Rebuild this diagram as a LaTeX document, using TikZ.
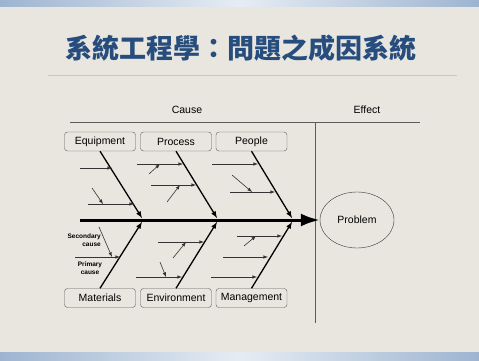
\documentclass[tikz,border=0pt]{standalone}
\usepackage{fontspec}
\setmainfont{Liberation Sans}
\newfontfamily\cjk{Noto Sans CJK TC}
\usepackage{xcolor}
\usetikzlibrary{shapes.geometric,arrows.meta}

\definecolor{paper}{HTML}{E8E6DF}
\definecolor{fan}{HTML}{EDEBE5}
\definecolor{barblue}{HTML}{9DB4D0}
\definecolor{barlight}{HTML}{E6ECF4}
\definecolor{titleblue}{HTML}{264D7E}
\definecolor{ink}{HTML}{333333}

\begin{document}
\begin{tikzpicture}[
    x=1pt, y=-1pt,
    lbl/.style={font=\fontsize{10.5}{12}\selectfont},
    cat/.style={lbl, draw=ink!80, rounded corners=3pt, minimum width=71pt, minimum height=19pt, inner sep=1pt},
    bone/.style={line width=1.3pt, -latex},
    sub/.style={draw=ink, -latex, line width=0.6pt},
    line/.style={draw=ink!80, semithick},
    tiny/.style={inner sep=0pt, font=\bfseries\fontsize{6.5}{8.5}\selectfont}
]

% background
\useasboundingbox (0,0) rectangle (479,361);
\fill[paper] (0,0) rectangle (479,361);
\fill[fan] (240,360) ++(10:60) arc (10:170:60) -- ++(170:180) arc (170:10:240) -- cycle;
\shade[left color=barblue, right color=barblue, middle color=barlight] (0,0) rectangle (479,7);
\shade[left color=barblue, right color=barblue, middle color=barlight] (0,352) rectangle (479,361);

% title
\node[text=titleblue, font=\cjk\bfseries\fontsize{27}{30}\selectfont] (title) at (241,48) {系統工程學：問題之成因系統};
\draw[draw=barblue!70, line width=0.8pt] (48,75) -- (457,75);

% header
\node[lbl] (cause) at (187,110) {Cause};
\node[lbl] (effect) at (367,110) {Effect};
\draw[line] (70,122) -- (420,122);
\draw[line] (315,122) -- (315,323);

% categories
\node[cat] (equip) at (100,141.5) {Equipment};
\node[cat] (process) at (176,141.5) {Process};
\node[cat] (people) at (251.5,141.5) {People};
\node[cat] (materials) at (100,298) {Materials};
\node[cat] (environ) at (176,298) {Environment};
\node[cat] (manage) at (251.5,298) {Management};

\node[lbl, draw=ink, ellipse, minimum width=74pt, minimum height=56pt] (problem) at (357,220) {Problem};

% spine
\coordinate (tail) at (80,220);
\draw[line width=3pt, -{Latex[length=19pt,width=13pt]}] (tail) -- (problem.west);

\coordinate (eqend) at (142,218);
\coordinate (prend) at (217,218);
\coordinate (peend) at (292,218);
\coordinate (maend) at (142,222);
\coordinate (enend) at (217,222);
\coordinate (mgend) at (292,222);
\draw[bone] (equip.south) -- (eqend);
\draw[bone] (process.south) -- (prend);
\draw[bone] (people.south) -- (peend);
\draw[bone] (materials.north) -- (maend);
\draw[bone] (environ.north) -- (enend);
\draw[bone] (manage.north) -- (mgend);

% causes and secondary causes
\foreach \n/\xa/\ya/\xb/\yb in {
    c1/80/168/112/168, c2/88/204/134/204,
    c3/137/164/183/164, c4/151/185/196/185,
    c5/212/164/258/164, c6/230/192/275/192,
    c7/75/257/120/257,
    c8/158/242/204/242, c9/136/277/182/277,
    c10/237/236/282/236, c11/223/257/268/257, c12/211/277/257/277,
    s1/92/188/103/204,
    s2/149/174/160/164, s3/167/202/180/185,
    s4/232/175/252/192,
    s5/99/227/112/257,
    s6/173/258/186/242, s7/160/262/166/277,
    s8/244/246/256/236
}{
    \coordinate (\n-from) at (\xa,\ya);
    \coordinate (\n-to) at (\xb,\yb);
    \draw[sub] (\n-from) -- (\n-to);
}

\node[tiny, align=right, anchor=east] (seclabel) at (101,240) {Secondary\\cause};
\node[tiny, align=center] (primlabel) at (90,268) {Primary\\cause};

\end{tikzpicture}
\end{document}
